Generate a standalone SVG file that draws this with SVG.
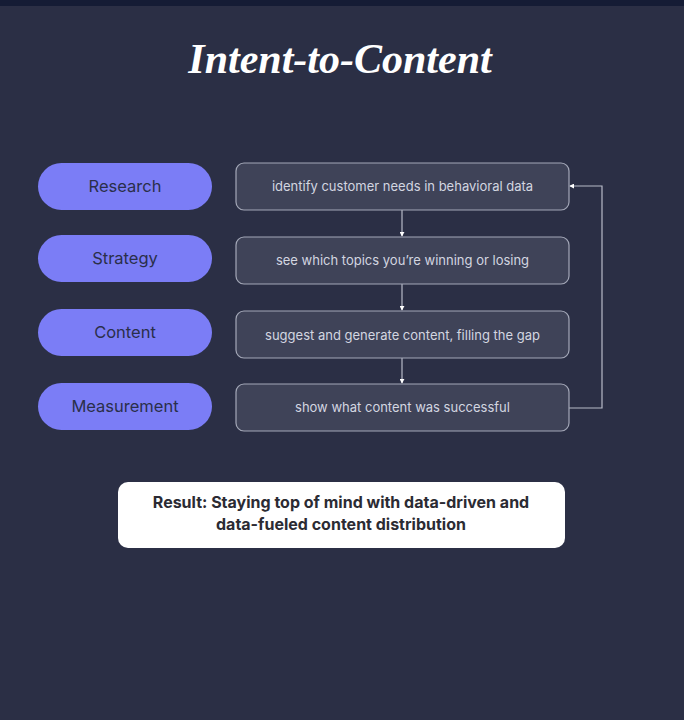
<svg xmlns="http://www.w3.org/2000/svg" width="684" height="720" viewBox="0 0 684 720">
<style>
.pill{fill:#7b7df6;}
.pt{font-family:"Inter","Liberation Sans",sans-serif;font-size:16.5px;fill:#2a2f4a;text-anchor:middle;}
.box{fill:#3f4358;stroke:#a4a8b8;stroke-width:1.2;}
.bt{font-family:"Inter","Liberation Sans",sans-serif;font-size:13px;fill:#d3d6e0;text-anchor:middle;}
.conn{fill:none;stroke:#b8bbc8;stroke-width:1.2;}
</style>
<defs>
<marker id="ah" viewBox="0 0 6 6" refX="5" refY="3" markerWidth="5" markerHeight="5" orient="auto" markerUnits="userSpaceOnUse">
<path d="M0,0 L6,3 L0,6 z" fill="#ffffff"/>
</marker>
</defs>
<rect x="0" y="0" width="684" height="720" fill="#2b2f45"/>
<rect x="0" y="0" width="684" height="6" fill="#151c35"/>
<text x="340" y="73" font-family="'Liberation Serif',serif" font-style="italic" font-weight="bold" font-size="42" fill="#ffffff" text-anchor="middle">Intent-to-Content</text>

<g id="connectors">
<line class="conn" x1="402" y1="210" x2="402" y2="236" marker-end="url(#ah)"/>
<line class="conn" x1="402" y1="284" x2="402" y2="310" marker-end="url(#ah)"/>
<line class="conn" x1="402" y1="358" x2="402" y2="383" marker-end="url(#ah)"/>
<polyline class="conn" points="569,408 602,408 602,186 570,186" marker-end="url(#ah)"/>
</g>

<g id="research">
<rect class="pill" x="38" y="163" width="174" height="47" rx="23.5"/>
<text class="pt" x="125" y="192">Research</text>
</g>
<g id="strategy">
<rect class="pill" x="38" y="235" width="174" height="47" rx="23.5"/>
<text class="pt" x="125" y="264">Strategy</text>
</g>
<g id="content">
<rect class="pill" x="38" y="309" width="174" height="47" rx="23.5"/>
<text class="pt" x="125" y="338">Content</text>
</g>
<g id="measurement">
<rect class="pill" x="38" y="383" width="174" height="47" rx="23.5"/>
<text class="pt" x="125" y="412">Measurement</text>
</g>

<g id="step1">
<rect class="box" x="236" y="163" width="333" height="47" rx="8"/>
<text class="bt" x="402.5" y="191">identify customer needs in behavioral data</text>
</g>
<g id="step2">
<rect class="box" x="236" y="237" width="333" height="47" rx="8"/>
<text class="bt" x="402.5" y="265">see which topics you’re winning or losing</text>
</g>
<g id="step3">
<rect class="box" x="236" y="311" width="333" height="47" rx="8"/>
<text class="bt" x="402.5" y="340">suggest and generate content, filling the gap</text>
</g>
<g id="step4">
<rect class="box" x="236" y="384" width="333" height="47" rx="8"/>
<text class="bt" x="402.5" y="412">show what content was successful</text>
</g>

<g id="result">
<rect x="118" y="482" width="447" height="66" rx="10" fill="#ffffff"/>
<text font-family="'Inter','Liberation Sans',sans-serif" font-weight="bold" font-size="16" fill="#2b2b33" text-anchor="middle"><tspan x="341" y="508">Result: Staying top of mind with data-driven and</tspan><tspan x="341" y="530">data-fueled content distribution</tspan></text>
</g>
</svg>
